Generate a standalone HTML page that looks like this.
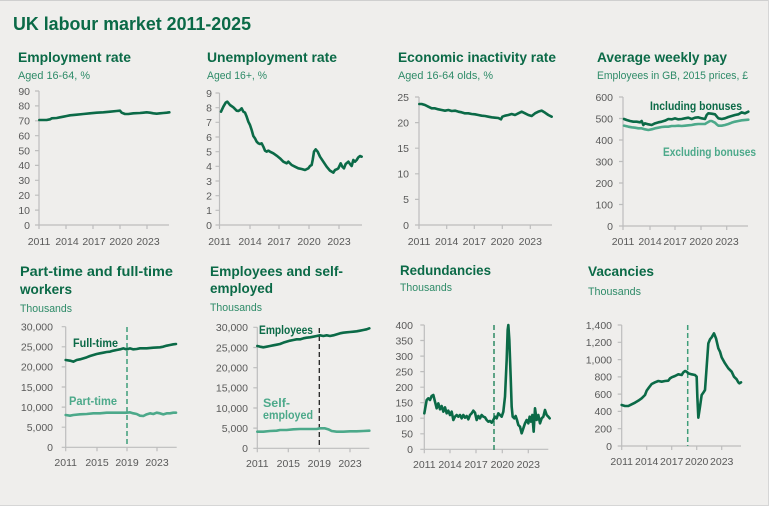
<!DOCTYPE html>
<html><head><meta charset="utf-8">
<style>
html,body{margin:0;padding:0;background:#efeeec;}
svg{display:block;}
.t{font-family:"Liberation Sans",sans-serif;font-weight:bold;fill:#0b6a47;}
.s{font-family:"Liberation Sans",sans-serif;fill:#2e8b68;font-size:11px;}
.tk{font-family:"Liberation Sans",sans-serif;fill:#595959;font-size:10.5px;}
.yl{text-anchor:end;}
.xl{text-anchor:middle;}
.ax{stroke:#bdbdbd;stroke-width:1.2;fill:none;}
.d{fill:none;stroke:#0b6a47;stroke-width:2.6;stroke-linejoin:round;stroke-linecap:round;}
.l{fill:none;stroke:#4ca98a;stroke-width:2.6;stroke-linejoin:round;stroke-linecap:round;}
</style></head>
<body>
<svg width="769" height="506" viewBox="0 0 769 506" xmlns="http://www.w3.org/2000/svg">
<rect width="769" height="506" fill="#efeeec"/>
<line x1="0" y1="0.5" x2="769" y2="0.5" stroke="#cfcfcf"/>
<line x1="0" y1="505.5" x2="769" y2="505.5" stroke="#d6d6d6"/>
<line x1="768.5" y1="0" x2="768.5" y2="506" stroke="#d6d6d6"/>

<text class="t" x="13" y="30" font-size="18" textLength="238" lengthAdjust="spacingAndGlyphs">UK labour market 2011-2025</text>

<!-- Titles top -->
<text class="t" x="18" y="62" font-size="14" textLength="113" lengthAdjust="spacingAndGlyphs">Employment rate</text>
<text class="s" x="18" y="79" textLength="72" lengthAdjust="spacingAndGlyphs">Aged 16-64, %</text>
<text class="t" x="207" y="62" font-size="14" textLength="130" lengthAdjust="spacingAndGlyphs">Unemployment rate</text>
<text class="s" x="207" y="79" textLength="60" lengthAdjust="spacingAndGlyphs">Aged 16+, %</text>
<text class="t" x="398" y="62" font-size="14" textLength="158" lengthAdjust="spacingAndGlyphs">Economic inactivity rate</text>
<text class="s" x="398" y="79" textLength="95" lengthAdjust="spacingAndGlyphs">Aged 16-64 olds, %</text>
<text class="t" x="597" y="62" font-size="14" textLength="130" lengthAdjust="spacingAndGlyphs">Average weekly pay</text>
<text class="s" x="597" y="79" textLength="151" lengthAdjust="spacingAndGlyphs">Employees in GB, 2015 prices, £</text>

<!-- Titles bottom -->
<text class="t" x="20" y="276" font-size="14" textLength="153" lengthAdjust="spacingAndGlyphs">Part-time and full-time</text>
<text class="t" x="20" y="294" font-size="14" textLength="52" lengthAdjust="spacingAndGlyphs">workers</text>
<text class="s" x="20" y="312" textLength="52" lengthAdjust="spacingAndGlyphs">Thousands</text>
<text class="t" x="210" y="276" font-size="14" textLength="133" lengthAdjust="spacingAndGlyphs">Employees and self-</text>
<text class="t" x="210" y="293" font-size="14" textLength="63" lengthAdjust="spacingAndGlyphs">employed</text>
<text class="s" x="210" y="311" textLength="52" lengthAdjust="spacingAndGlyphs">Thousands</text>
<text class="t" x="400" y="275" font-size="14" textLength="91" lengthAdjust="spacingAndGlyphs">Redundancies</text>
<text class="s" x="400" y="291" textLength="52" lengthAdjust="spacingAndGlyphs">Thousands</text>
<text class="t" x="588" y="276" font-size="14" textLength="66" lengthAdjust="spacingAndGlyphs">Vacancies</text>
<text class="s" x="588" y="295" textLength="53" lengthAdjust="spacingAndGlyphs">Thousands</text>

<!-- ===== Employment rate ===== -->
<path class="ax" d="M39,91V225H169 M35,91H39 M35,105.9H39 M35,120.8H39 M35,135.7H39 M35,150.6H39 M35,165.4H39 M35,180.3H39 M35,195.2H39 M35,210.1H39 M35,225H39 M39,225v4 M66,225v4 M93,225v4 M120,225v4 M147,225v4"/>
<g class="tk yl">
<text x="30" y="94.8">90</text><text x="30" y="109.7">80</text><text x="30" y="124.6">70</text><text x="30" y="139.5">60</text><text x="30" y="154.4">50</text><text x="30" y="169.2">40</text><text x="30" y="184.1">30</text><text x="30" y="199">20</text><text x="30" y="213.9">10</text><text x="30" y="228.8">0</text>
</g>
<g class="tk xl"><text x="39" y="245">2011</text><text x="67" y="245">2014</text><text x="94" y="245">2017</text><text x="121" y="245">2020</text><text x="148" y="245">2023</text></g>
<g transform="translate(10,60) scale(0.333333)">
<polyline class="d" vector-effect="non-scaling-stroke" points="88,180 110,180 120,178 125,175 140,174 150,172 160,170 170,168 180,166 200,164 220,162 240,160 260,158 280,157 300,155 320,153 330,152 335,158 345,162 355,162 370,160 390,159 400,158 410,157 420,158 430,160 440,161 450,160 460,159 470,158 478,157"/>
</g>

<!-- ===== Unemployment ===== -->
<path class="ax" d="M219.5,93V225H362 M215.5,93h4 M215.5,107.7h4 M215.5,122.3h4 M215.5,137h4 M215.5,151.7h4 M215.5,166.3h4 M215.5,181h4 M215.5,195.7h4 M215.5,210.3h4 M215.5,225h4 M219.5,225v4 M250,225v4 M279,225v4 M309,225v4 M339,225v4"/>
<g class="tk yl">
<text x="212" y="96.8">9</text><text x="212" y="111.5">8</text><text x="212" y="126.1">7</text><text x="212" y="140.8">6</text><text x="212" y="155.5">5</text><text x="212" y="170.1">4</text><text x="212" y="184.8">3</text><text x="212" y="199.5">2</text><text x="212" y="214.1">1</text><text x="212" y="228.8">0</text>
</g>
<g class="tk xl"><text x="219.5" y="245">2011</text><text x="250" y="245">2014</text><text x="279" y="245">2017</text><text x="309" y="245">2020</text><text x="339" y="245">2023</text></g>
<g transform="translate(195,60) scale(0.333333)">
<polyline class="d" vector-effect="non-scaling-stroke" points="78,155 85,140 92,128 97,125 105,135 115,142 125,152 130,153 135,150 140,145 145,155 150,158 155,170 160,185 165,195 170,210 175,228 180,235 185,245 190,250 195,252 200,250 205,260 210,272 215,275 220,272 225,275 235,280 245,287 255,295 265,305 275,310 280,305 290,315 300,320 310,325 320,327 330,330 340,325 345,318 350,315 353,300 357,275 362,268 368,275 375,290 385,305 395,320 405,332 410,335 415,338 420,330 425,328 430,325 437,310 442,320 447,325 452,312 460,305 465,312 470,318 475,300 480,305 485,300 490,292 495,288 500,290"/>
</g>

<!-- ===== Inactivity ===== -->
<path class="ax" d="M419,97V225H552 M415,97h4 M415,122.6h4 M415,148.2h4 M415,173.8h4 M415,199.4h4 M415,225h4 M419,225v4 M446.7,225v4 M474.3,225v4 M502.3,225v4 M530.3,225v4"/>
<g class="tk yl">
<text x="409" y="100.8">25</text><text x="409" y="126.4">20</text><text x="409" y="152">15</text><text x="409" y="177.6">10</text><text x="409" y="203.2">5</text><text x="409" y="228.8">0</text>
</g>
<g class="tk xl"><text x="419" y="245">2011</text><text x="446.7" y="245">2014</text><text x="474.3" y="245">2017</text><text x="502.3" y="245">2020</text><text x="530.3" y="245">2023</text></g>
<g transform="translate(385,0) scale(0.333333)">
<polyline class="d" vector-effect="non-scaling-stroke" points="103,312 110,312 120,315 130,320 140,325 150,325 160,328 170,330 180,332 190,330 200,333 210,332 220,335 230,337 240,340 250,340 260,342 270,343 280,345 290,347 300,348 310,350 320,352 330,353 340,354 348,358 352,350 360,347 370,345 380,342 390,345 400,340 410,335 420,340 430,345 440,348 450,340 460,335 470,332 480,338 490,345 500,350"/>
</g>

<!-- ===== Weekly pay ===== -->
<path class="ax" d="M623,97V226H748 M619,97h4 M619,118.5h4 M619,140h4 M619,161.5h4 M619,183h4 M619,204.5h4 M619,226h4 M623,226v4 M650,226v4 M675,226v4 M701,226v4 M726.7,226v4"/>
<g class="tk yl">
<text x="613" y="100.8">600</text><text x="613" y="122.3">500</text><text x="613" y="143.8">400</text><text x="613" y="165.3">300</text><text x="613" y="186.8">200</text><text x="613" y="208.3">100</text><text x="613" y="229.8">0</text>
</g>
<g class="tk xl"><text x="623" y="245">2011</text><text x="650" y="245">2014</text><text x="675" y="245">2017</text><text x="701" y="245">2020</text><text x="727" y="245">2023</text></g>
<g transform="translate(615,95) scale(0.333333)">
<polyline class="l" vector-effect="non-scaling-stroke" points="27,92 40,95 50,97 60,98 70,100 80,100 90,103 100,105 110,103 120,100 130,98 140,96 150,95 160,95 170,93 180,93 190,92 200,93 210,92 220,91 230,90 240,88 250,87 260,87 270,87 278,82 285,78 290,78 300,83 305,88 310,92 320,92 330,90 340,87 350,83 360,80 370,78 380,76 400,74"/>
<polyline class="d" vector-effect="non-scaling-stroke" points="27,72 35,75 45,78 55,80 65,80 75,82 80,78 85,90 90,85 100,88 110,90 120,85 130,82 140,80 150,77 160,72 170,73 180,70 190,73 200,72 210,70 220,68 230,72 240,68 250,67 260,70 270,72 275,60 280,55 290,56 300,58 305,64 310,70 320,72 330,70 340,66 350,63 360,60 370,58 380,52 390,55 400,50"/>
</g>
<text class="t" x="650" y="110" font-size="11.5" textLength="92" lengthAdjust="spacingAndGlyphs">Including bonuses</text>
<text class="t" x="663" y="156" font-size="11.5" textLength="93" lengthAdjust="spacingAndGlyphs" style="fill:#4ca98a">Excluding bonuses</text>

<!-- ===== Part-time / Full-time ===== -->
<path class="ax" d="M65.7,326.7V447.3H176.7 M61.7,326.7h4 M61.7,346.8h4 M61.7,366.9h4 M61.7,387h4 M61.7,407.1h4 M61.7,427.2h4 M61.7,447.3h4 M65.7,447.3v4 M97,447.3v4 M127,447.3v4 M157,447.3v4"/>
<g class="tk yl">
<text x="53" y="330.5">30,000</text><text x="53" y="350.6">25,000</text><text x="53" y="370.7">20,000</text><text x="53" y="390.8">15,000</text><text x="53" y="410.9">10,000</text><text x="53" y="431">5,000</text><text x="53" y="451.1">0</text>
</g>
<g class="tk xl"><text x="65.7" y="466">2011</text><text x="97" y="466">2015</text><text x="127" y="466">2019</text><text x="157" y="466">2023</text></g>
<line x1="127" y1="327" x2="127" y2="447" stroke="#3f9e7a" stroke-width="1.5" stroke-dasharray="5,3"/>
<g transform="translate(0,250) scale(0.333333)">
<polyline class="d" vector-effect="non-scaling-stroke" points="197,330 210,332 220,335 230,330 240,328 250,325 260,322 270,318 280,315 290,312 300,310 310,308 320,306 330,305 340,302 350,300 360,298 370,295 380,298 390,295 400,298 410,297 420,295 440,295 460,293 480,292 490,290 500,287 510,285 520,283 528,282"/>
<polyline class="l" vector-effect="non-scaling-stroke" points="197,495 210,497 220,495 240,493 260,492 280,490 300,490 320,488 340,488 360,488 380,488 390,487 400,490 410,492 420,497 430,498 440,493 450,490 460,492 470,488 480,490 490,493 500,490 510,490 520,488 528,488"/>
</g>
<text class="t" x="73" y="347" font-size="11.5" textLength="45" lengthAdjust="spacingAndGlyphs">Full-time</text>
<text class="t" x="69" y="405" font-size="11.5" textLength="48" lengthAdjust="spacingAndGlyphs" style="fill:#4ca98a">Part-time</text>

<!-- ===== Employees / Self-employed ===== -->
<path class="ax" d="M257.3,327.3V448.3H369.3 M253.3,327.3h4 M253.3,347.5h4 M253.3,367.7h4 M253.3,387.8h4 M253.3,408h4 M253.3,428.1h4 M253.3,448.3h4 M257.3,448.3v4 M288.3,448.3v4 M319.3,448.3v4 M350,448.3v4"/>
<g class="tk yl">
<text x="248" y="331.1">30,000</text><text x="248" y="351.3">25,000</text><text x="248" y="371.5">20,000</text><text x="248" y="391.6">15,000</text><text x="248" y="411.8">10,000</text><text x="248" y="431.9">5,000</text><text x="248" y="452.1">0</text>
</g>
<g class="tk xl"><text x="257.3" y="467">2011</text><text x="288.3" y="467">2015</text><text x="319.3" y="467">2019</text><text x="350" y="467">2023</text></g>
<line x1="319.3" y1="328" x2="319.3" y2="448" stroke="#222" stroke-width="1.3" stroke-dasharray="5,3"/>
<g transform="translate(0,250) scale(0.333333)">
<polyline class="d" vector-effect="non-scaling-stroke" points="772,288 780,290 790,292 800,290 810,288 820,286 830,284 840,282 850,278 860,275 870,272 880,270 890,268 900,268 910,265 920,263 930,262 940,260 950,258 960,256 970,258 980,256 990,258 1000,256 1010,253 1020,250 1030,248 1040,247 1050,246 1060,245 1070,244 1080,242 1090,240 1100,238 1108,235"/>
<polyline class="l" vector-effect="non-scaling-stroke" points="772,545 790,545 810,543 830,542 840,540 860,540 880,538 900,537 920,537 940,537 950,537 960,535 975,535 985,538 995,543 1010,545 1030,545 1050,544 1070,544 1090,543 1108,542"/>
</g>
<text class="t" x="259" y="334" font-size="11.5" textLength="54" lengthAdjust="spacingAndGlyphs">Employees</text>
<text class="t" x="263" y="407" font-size="11.5" textLength="27" lengthAdjust="spacingAndGlyphs" style="fill:#4ca98a">Self-</text>
<text class="t" x="263" y="419" font-size="11.5" textLength="50" lengthAdjust="spacingAndGlyphs" style="fill:#4ca98a">employed</text>

<!-- ===== Redundancies ===== -->
<path class="ax" d="M424.3,325V449.3H548.3 M420.3,325h4 M420.3,340.5h4 M420.3,356.1h4 M420.3,371.6h4 M420.3,387.2h4 M420.3,402.7h4 M420.3,418.2h4 M420.3,433.8h4 M420.3,449.3h4 M424.3,449.3v4 M450,449.3v4 M476,449.3v4 M502.3,449.3v4 M528.3,449.3v4"/>
<g class="tk yl">
<text x="413" y="328.8">400</text><text x="413" y="344.3">350</text><text x="413" y="359.9">300</text><text x="413" y="375.4">250</text><text x="413" y="391">200</text><text x="413" y="406.5">150</text><text x="413" y="422">100</text><text x="413" y="437.6">50</text><text x="413" y="453.1">0</text>
</g>
<g class="tk xl"><text x="424.3" y="468">2011</text><text x="450" y="468">2014</text><text x="476" y="468">2017</text><text x="502.3" y="468">2020</text><text x="528.3" y="468">2023</text></g>
<line x1="494" y1="325" x2="494" y2="450" stroke="#2f8a64" stroke-width="1.5" stroke-dasharray="5,3"/>
<g transform="translate(415,320) scale(0.333333)">
<polyline class="d" vector-effect="non-scaling-stroke" points="28,280 35,240 40,235 45,240 50,228 55,225 60,245 65,265 70,250 75,268 80,258 85,275 90,262 95,280 100,272 105,285 110,275 115,300 120,290 125,285 130,290 135,285 140,295 145,285 150,293 155,288 160,298 165,285 170,280 175,272 180,278 185,300 190,288 195,295 200,285 205,290 210,292 215,300 220,305 225,303 230,308 235,300 240,290 245,295 250,280 255,285 260,290 265,275 270,230 275,120 278,30 280,15 283,60 287,170 290,260 293,290 298,295 302,288 306,300 310,315 315,320 320,340 325,325 330,310 335,300 340,310 344,290 348,305 352,285 356,335 360,265 365,300 370,285 375,310 380,295 385,290 390,270 395,285 400,290 404,295"/>
</g>

<!-- ===== Vacancies ===== -->
<path class="ax" d="M621.7,325V446H741 M617.7,325h4 M617.7,342.3h4 M617.7,359.6h4 M617.7,376.9h4 M617.7,394.1h4 M617.7,411.4h4 M617.7,428.7h4 M617.7,446h4 M621.7,446v4 M646.7,446v4 M671.7,446v4 M696.7,446v4 M721.7,446v4"/>
<g class="tk yl">
<text x="612" y="328.8">1,400</text><text x="612" y="346.1">1,200</text><text x="612" y="363.4">1,000</text><text x="612" y="380.7">800</text><text x="612" y="397.9">600</text><text x="612" y="415.2">400</text><text x="612" y="432.5">200</text><text x="612" y="449.8">0</text>
</g>
<g class="tk xl"><text x="621.7" y="465">2011</text><text x="646.7" y="465">2014</text><text x="671.7" y="465">2017</text><text x="696.7" y="465">2020</text><text x="721.7" y="465">2023</text></g>
<line x1="687.7" y1="325" x2="687.7" y2="446" stroke="#3f9e7a" stroke-width="1.5" stroke-dasharray="5,3"/>
<g transform="translate(615,320) scale(0.333333)">
<polyline class="d" vector-effect="non-scaling-stroke" points="20,255 30,258 40,258 50,253 60,248 70,242 80,235 90,225 95,212 100,205 110,192 120,187 130,183 140,185 150,183 160,182 165,175 170,172 180,168 190,163 200,165 205,157 210,153 215,155 220,160 230,163 240,165 245,170 247,230 250,293 255,260 260,225 265,218 270,210 275,140 280,70 285,58 290,52 297,40 303,55 310,85 315,95 320,112 330,130 340,145 350,155 357,170 365,178 370,187 373,190 378,187"/>
</g>
</svg>
</body></html>
